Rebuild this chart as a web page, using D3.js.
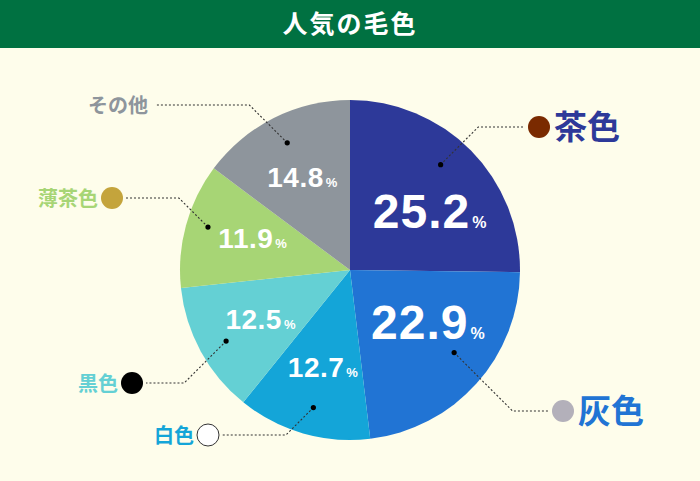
<!DOCTYPE html>
<html>
<head>
<meta charset="utf-8">
<script src="https://cdn.jsdelivr.net/npm/d3@7"></script>
<style>
  html, body { margin: 0; padding: 0; background: #fefdeb; }
  svg { display: block; }
</style>
</head>
<body>
<svg id="chart"></svg>
<script>
// data
const categories = ["茶色", "灰色", "白色", "黒色", "薄茶色", "その他"];
const shares = [25.2, 22.9, 12.7, 12.5, 11.9, 14.8];
const sliceColors = ["#2d3999", "#2174d4", "#14a5d8", "#64d0d4", "#a7d575", "#8e959c"];
const markerColors = ["#7a2a00", "#b3b0ba", "#ffffff", "#000000", "#c4a43c", null];
const labelColors = ["#2d3999", "#2174d4", "#14a5d8", "#64d0d4", "#a7d575", "#8e959c"];

const width = 700, height = 481;
const cx = 350, cy = 270, radius = 170;

const svg = d3.select("#chart").attr("width", width).attr("height", height);

svg.append("rect").attr("width", width).attr("height", height).attr("fill", "#fefdeb");
svg.append("rect").attr("width", width).attr("height", 48).attr("fill", "#007141");
svg.append("text")
  .attr("x", width / 2)
  .attr("y", 33)
  .attr("text-anchor", "middle")
  .attr("fill", "#fff")
  .style("font-family", "'Noto Sans CJK JP', sans-serif")
  .style("font-size", "25px")
  .style("font-weight", "bold")
  .style("letter-spacing", "2px")
  .text("人気の毛色");

const pie = d3.pie().sort(null).value(d => d);
const arcs = pie(shares);
const arc = d3.arc().innerRadius(0).outerRadius(radius);

const g = svg.append("g").attr("transform", `translate(${cx},${cy})`);

g.selectAll("path.slice")
  .data(arcs)
  .enter()
  .append("path")
  .attr("class", "slice")
  .attr("d", arc)
  .attr("fill", (d, i) => sliceColors[i]);

// value labels
const labelArc = d3.arc().innerRadius(102).outerRadius(102);
const labelNudge = [[7, 12], [2, -16], [1, -1], [0, 0], [1, -5], [-2, -2]];
const bigSize = [48, 48, 28, 28, 28, 28];

arcs.forEach((d, i) => {
  const [x, y] = labelArc.centroid(d);
  const fs = bigSize[i];
  const t = g.append("text")
    .attr("x", x + labelNudge[i][0])
    .attr("y", y + labelNudge[i][1] + fs * 0.36)
    .attr("text-anchor", "middle")
    .attr("fill", "#fff")
    .style("font-family", "'Liberation Sans', Arial, sans-serif")
    .style("font-weight", "bold")
    .style("font-size", fs + "px")
    .style("letter-spacing", fs > 30 ? "1px" : "0.5px");
  t.append("tspan").text(shares[i].toFixed(1));
  t.append("tspan")
    .style("font-size", (fs > 30 ? 16 : 13) + "px")
    .style("letter-spacing", "0px")
    .attr("dx", 2)
    .text("%");
});

// callouts
const dotArc = d3.arc().innerRadius(140).outerRadius(140);
const dotNudge = [[-9, -7], [0, -11], [2, 3], [-1, 4], [-7, -6], [0, -2]];
const calloutY = [127, 411, 435, 383, 198, 105];
const lineEndX = [525, 549, 222, 146, 126, 156];
const markerR = 11;

arcs.forEach((d, i) => {
  const [dx, dy] = dotArc.centroid(d);
  const px = cx + dx + dotNudge[i][0], py = cy + dy + dotNudge[i][1];
  const ty = calloutY[i];
  const right = px > cx;
  const elbowX = right ? px + Math.abs(ty - py) : px - Math.abs(ty - py);

  svg.append("path")
    .attr("d", `M${px},${py}L${elbowX},${ty}L${lineEndX[i]},${ty}`)
    .attr("fill", "none")
    .attr("stroke", "#333")
    .attr("stroke-width", 1.1)
    .attr("stroke-dasharray", "2,2");

  svg.append("circle")
    .attr("cx", px).attr("cy", py).attr("r", 2.6)
    .attr("fill", "#000");

  const big = i < 2;
  let textX;
  if (markerColors[i]) {
    const mx = right ? lineEndX[i] + 3 + markerR : lineEndX[i] - 3 - markerR;
    svg.append("circle")
      .attr("cx", mx).attr("cy", ty).attr("r", markerR)
      .attr("fill", markerColors[i])
      .attr("stroke", markerColors[i] === "#ffffff" ? "#333" : "none")
      .attr("stroke-width", 1);
    textX = right ? mx + markerR + 4 : mx - markerR - 3;
  } else {
    textX = lineEndX[i] - 8;
  }

  svg.append("text")
    .attr("x", textX)
    .attr("y", ty + (big ? 12 : 7.5))
    .attr("text-anchor", right ? "start" : "end")
    .attr("fill", labelColors[i])
    .style("font-family", "'Noto Sans CJK JP', sans-serif")
    .style("font-weight", "bold")
    .style("font-size", big ? "33px" : "20px")
    .text(categories[i]);
});
</script>
</body>
</html>
